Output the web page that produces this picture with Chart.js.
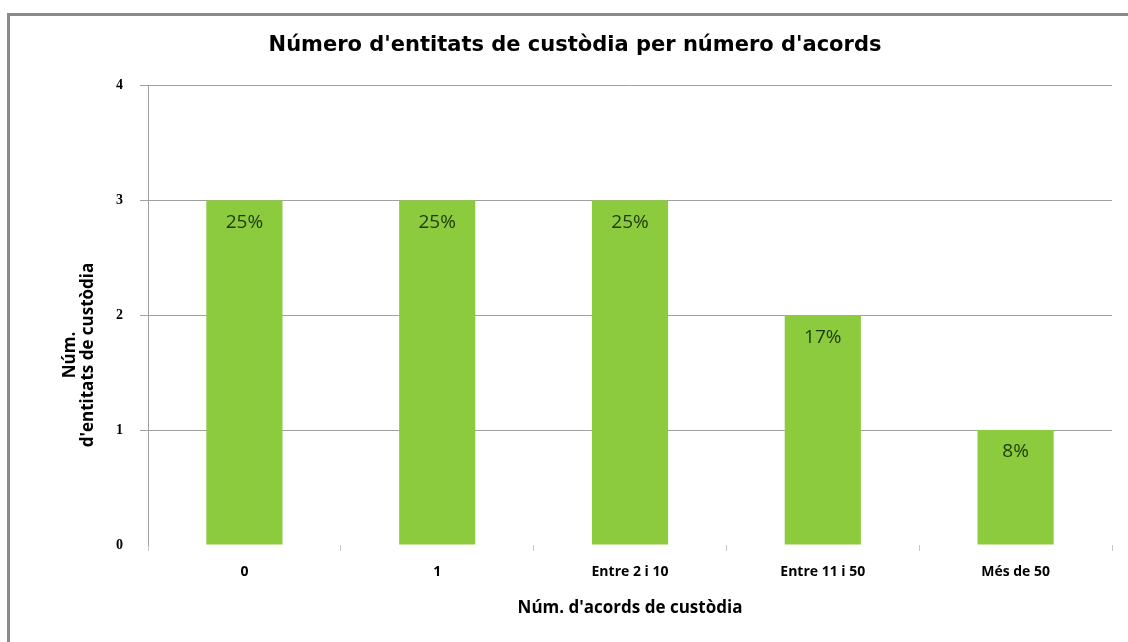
<!DOCTYPE html>
<html>
<head>
<meta charset="utf-8">
<script src="https://cdn.jsdelivr.net/npm/chart.js@4"></script>
<style>
  html, body { margin: 0; padding: 0; background: #fff; }
  #wrap { position: relative; width: 1128px; height: 642px; overflow: hidden; }
  #frame { position: absolute; left: 7px; top: 13px; width: 1200px; height: 700px;
           border-left: 3px solid #8a8a8a; border-top: 3px solid #8a8a8a; box-sizing: border-box; }
  canvas { position: absolute; left: 0; top: 0; }
</style>
</head>
<body>
<div id="wrap">
  <div id="frame"></div>
  <canvas id="chart" width="1128" height="642"></canvas>
</div>
<script>
const categories = ['0', '1', 'Entre 2 i 10', 'Entre 11 i 50', 'Més de 50'];
const counts = [3, 3, 3, 2, 1];
const shares = ['25%', '25%', '25%', '17%', '8%'];
const yTicks = [0, 1, 2, 3, 4];

const titleText = "Número d'entitats de custòdia per número d'acords";
const yTitle = ['Núm.', "d'entitats de custòdia"];
const xTitle = "Núm. d'acords de custòdia";

const barLabels = {
  id: 'barLabels',
  afterDatasetsDraw(c) {
    const ctx = c.ctx;
    const meta = c.getDatasetMeta(0);
    ctx.save();
    ctx.font = '19px "Open Sans"';
    ctx.fillStyle = '#1e3a0a';
    ctx.textAlign = 'center';
    ctx.textBaseline = 'middle';
    meta.data.forEach((bar, i) => {
      ctx.fillText(shares[i], bar.x, bar.y + 22);
    });
    ctx.restore();
  }
};

const yAxisTitle = {
  id: 'yAxisTitle',
  afterDraw(c) {
    const ctx = c.ctx;
    ctx.save();
    ctx.translate(79, 355);
    ctx.rotate(-Math.PI / 2);
    ctx.font = 'bold 17px "Open Sans"';
    ctx.fillStyle = '#000';
    ctx.textAlign = 'center';
    ctx.textBaseline = 'middle';
    ctx.fillText(yTitle[0], 0, -9);
    ctx.fillText(yTitle[1], 0, 9);
    ctx.restore();
  }
};

new Chart(document.getElementById('chart'), {
  type: 'bar',
  data: {
    labels: categories,
    datasets: [{
      data: counts,
      backgroundColor: '#8ccb3d',
      borderWidth: 0,
      categoryPercentage: 1,
      barPercentage: 0.395
    }]
  },
  options: {
    responsive: false,
    animation: false,
    layout: { padding: { left: 38, right: 16, top: 0, bottom: 0 } },
    plugins: {
      legend: { display: false },
      tooltip: { enabled: false },
      title: {
        display: true,
        text: titleText,
        color: '#000',
        font: { family: 'DejaVu Sans', size: 21, weight: 'bold', lineHeight: 1.2 },
        padding: { top: 33, bottom: 27 }
      }
    },
    scales: {
      x: {
        afterFit: s => { s.height = 97; },
        grid: { offset: true, drawOnChartArea: false, tickLength: 6, color: '#c8c8c8' },
        border: { display: false },
        ticks: { color: '#000', padding: 13, font: { family: 'Open Sans', size: 14, weight: 'bold' } },
        title: {
          display: true,
          text: xTitle,
          color: '#000',
          font: { family: 'Open Sans', size: 17, weight: 'bold', lineHeight: 1.2 },
          padding: { top: 4, bottom: 24 }
        }
      },
      y: {
        min: 0,
        max: 4,
        afterFit: s => { s.width = 110; },
        afterBuildTicks: s => { s.ticks = yTicks.map(v => ({ value: v })); },
        grid: {
          tickLength: 8,
          color: ctx => ctx.tick && ctx.tick.value === 0 ? 'rgba(0,0,0,0)' : '#a0a0a0'
        },
        border: { display: true, color: '#a0a0a0' },
        ticks: { color: '#000', padding: 17, font: { family: 'Liberation Serif', size: 14, weight: 'bold' } }
      }
    }
  },
  plugins: [barLabels, yAxisTitle]
});
</script>
</body>
</html>
